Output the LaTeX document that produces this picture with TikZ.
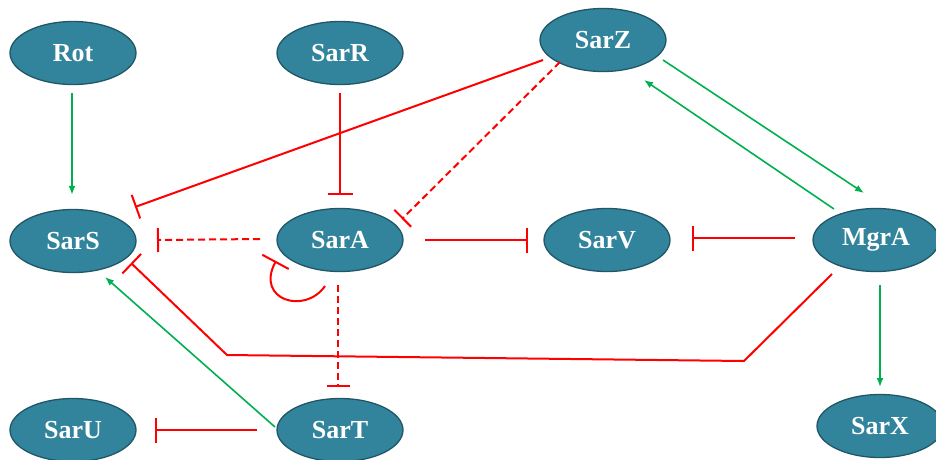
\documentclass[tikz,border=0pt]{standalone}
\usepackage{fontspec}
\setmainfont{Liberation Serif}
\usepackage{tikz}
\usetikzlibrary{calc,arrows.meta,shapes.geometric}
\definecolor{genefill}{RGB}{49,132,155}
\definecolor{genedraw}{RGB}{33,86,102}
\definecolor{actgreen}{RGB}{0,176,80}
\definecolor{inhred}{RGB}{255,0,0}
\tikzset{
	gene/.style={ellipse, fill=genefill, draw=genedraw, line width=1.3pt, minimum width=126pt, minimum height=63pt, inner sep=0pt, text=white, font=\bfseries\fontsize{26}{30}\selectfont},
	act/.style={draw=actgreen, line width=1.6pt, -{Latex[length=9pt,width=7pt]}},
	inh/.style={draw=inhred, line width=2pt, -{Bar[width=#1,line width=2pt]}},
	inh/.default=25pt,
	dashinh/.style={inh=#1, dash pattern=on 7pt off 4pt},
	dashinh/.default=24pt
}

\begin{document}
\begin{tikzpicture}[x=1pt, y=-1pt]
		%%%%% START %%%%%
		\useasboundingbox (0, 0) rectangle (936, 459);
		
		\node[gene] (Rot)  at (73, 53)   {Rot};
		\node[gene] (SarR) at (340, 53)  {SarR};
		\node[gene] (SarZ) at (603, 40)  {SarZ};
		\node[gene] (SarS) at (73, 241)  {SarS};
		\node[gene] (SarA) at (340, 240) {SarA};
		\node[gene] (SarV) at (607, 240) {SarV};
		\node[gene] (MgrA) at (876, 240) {MgrA};
		\node[gene] (SarU) at (73, 430)  {SarU};
		\node[gene] (SarT) at (340, 430) {SarT};
		\node[gene] (SarX) at (880, 426) {SarX};
		
		% activations
		\draw[act] ($(Rot.south)+(-1, 8)$) -- ($(SarS.north)+(-1, -14)$);
		\draw[act] ($(SarZ)+(60, 20)$) -- ($(MgrA)+(-12, -47)$);
		\draw[act] ($(MgrA)+(-42, -31)$) -- ($(SarZ)+(41, 40)$);
		\draw[act] ($(SarT)+(-65, -3)$) -- ($(SarS)+(32, 36)$);
		\draw[act] ($(MgrA)+(4, 45)$) -- ($(SarX)+(0, -39)$);
		
		% repressions
		\draw[inh] ($(SarR.south)+(0, 8)$) -- ($(SarA.north)+(0, -13)$);
		\draw[inh] ($(SarZ)+(-60, 20)$) -- ($(SarS)+(62, -34)$);
		\draw[inh] ($(SarA)+(85, 0)$) -- ($(SarV)+(-79, 0)$);
		\draw[inh] ($(MgrA)+(-81, -2)$) -- ($(SarV)+(85, -2)$);
		\draw[inh] ($(SarT)+(-83, 0)$) -- ($(SarU)+(82, 0)$);
		\draw[inh=27pt] ($(MgrA)+(-44, 34)$) -- (744, 361) -- (227, 355) -- ($(SarS)+(58, 22)$);
		\draw[inh=30pt] ($(SarA)+(-15, 46)$) .. controls ($(SarA)+(-35, 75)$) and ($(SarA)+(-85, 60)$) .. ($(SarA)+(-64, 21)$);
		
		% indirect repressions
		\draw[dashinh] ($(SarZ)+(-43, 22)$) -- ($(SarA)+(62, -21)$);
		\draw[dashinh] ($(SarA)+(-80, -1)$) -- ($(SarS)+(84, -1)$);
		\draw[dashinh=23pt] ($(SarA)+(-2, 45)$) -- ($(SarT)+(-2, -43)$);
		%%%%% END %%%%%
	\end{tikzpicture}
\end{document}
